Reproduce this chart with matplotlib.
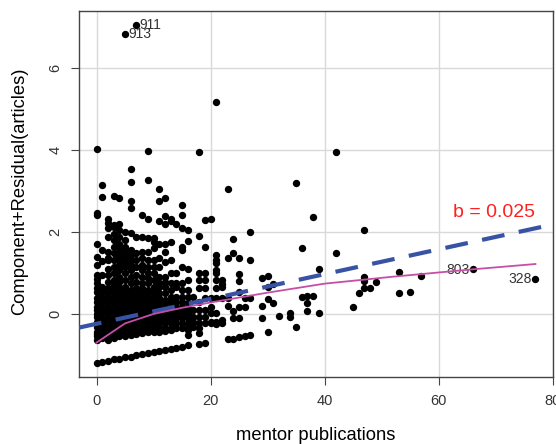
import matplotlib
matplotlib.use("Agg")
import matplotlib.pyplot as plt
import numpy as np

plt.rcParams['font.family'] = ['Liberation Sans', 'DejaVu Sans']

# ---- data (mentor publications vs component+residual) ----
# zero-article observations (lowest diagonal row)
zero_x = [0, 1, 2, 3, 4, 5, 6, 7, 8, 9, 10, 11, 12, 13, 14, 15, 16, 18, 19]
zero_y = [-1.19, -1.17, -1.14, -1.11, -1.09, -1.06, -1.04, -1.01, -0.98, -0.96,
          -0.93, -0.90, -0.88, -0.85, -0.82, -0.80, -0.77, -0.73, -0.71]
row2_x = [23, 24, 25, 26, 27]
row2_y = [-0.62, -0.60, -0.57, -0.54, -0.51]

# column readings: mentor publications value -> partial residuals
col_x = [0, 1, 2, 3, 4, 5, 6, 7, 8, 9, 10, 11, 12, 13, 14, 15, 16, 17, 18, 19, 20,
         21, 22, 23, 24, 25, 26, 27, 29, 30, 31, 32, 34, 35, 36, 37, 38, 39, 42,
         45, 46, 47, 48, 49, 53, 55, 57]
col_y = [
    [4.04, 2.46, 2.41, 1.72, 1.40, 1.20, 0.95, 0.85, 0.75, 0.64, 0.54, 0.40, 0.30, 0.18, 0.10, 0.00, -0.07, -0.19, -0.27, -0.32, -0.43, -0.50, -0.55, -0.63],
    [3.16, 2.86, 1.56, 1.30, 0.95, 0.67, 0.58, 0.50, 0.42, 0.34, 0.26, 0.18, 0.10, 0.02, -0.07, -0.15, -0.23, -0.31, -0.39, -0.47, -0.53, -0.59],
    [2.31, 2.23, 2.09, 1.89, 1.52, 1.36, 1.32, 1.11, 0.95, 0.79, 0.63, 0.55, 0.50, 0.42, 0.34, 0.26, 0.18, 0.10, 0.02, -0.07, -0.15, -0.23, -0.29, -0.35, -0.43, -0.51, -0.57, -0.63],
    [2.89, 2.17, 2.13, 1.96, 1.80, 1.64, 1.48, 1.32, 1.15, 0.99, 0.83, 0.71, 0.63, 0.50, 0.42, 0.34, 0.26, 0.18, 0.10, 0.02, -0.07, -0.15, -0.23, -0.31, -0.39, -0.47, -0.53, -0.59],
    [2.84, 2.20, 2.05, 1.88, 1.72, 1.60, 1.48, 1.40, 1.32, 1.20, 1.07, 0.91, 0.79, 0.67, 0.58, 0.50, 0.42, 0.34, 0.26, 0.18, 0.10, 0.02, -0.07, -0.15, -0.23, -0.31, -0.39, -0.47, -0.55],
    [2.01, 1.80, 1.64, 1.56, 1.48, 1.40, 1.32, 1.24, 1.15, 0.99, 0.83, 0.67, 0.58, 0.50, 0.42, 0.34, 0.24, 0.14, 0.06, -0.02, -0.10, -0.19, -0.27, -0.35, -0.41, -0.47, -0.53],
    [3.53, 3.23, 2.76, 2.60, 1.98, 1.56, 1.44, 1.32, 1.20, 1.07, 0.91, 0.75, 0.59, 0.50, 0.42, 0.34, 0.26, 0.18, 0.10, 0.02, -0.07, -0.15, -0.23, -0.31, -0.39, -0.47, -0.52],
    [1.89, 1.48, 1.32, 1.15, 0.95, 0.79, 0.63, 0.54, 0.46, 0.38, 0.30, 0.22, 0.14, 0.06, -0.02, -0.10, -0.19, -0.27, -0.35, -0.43, -0.50],
    [2.41, 1.89, 1.52, 1.36, 1.20, 1.07, 0.91, 0.75, 0.64, 0.54, 0.44, 0.34, 0.26, 0.18, 0.10, 0.02, -0.07, -0.15, -0.23, -0.31, -0.39, -0.47],
    [3.98, 3.27, 2.33, 1.85, 1.52, 1.32, 1.15, 0.99, 0.87, 0.75, 0.59, 0.50, 0.42, 0.34, 0.26, 0.18, 0.10, 0.02, -0.07, -0.15, -0.23, -0.31, -0.39, -0.45],
    [1.85, 1.76, 1.60, 1.32, 1.15, 0.99, 0.83, 0.67, 0.58, 0.50, 0.42, 0.34, 0.26, 0.18, 0.10, 0.02, -0.07, -0.15, -0.23, -0.31, -0.39, -0.44],
    [3.06, 2.76, 2.28, 1.72, 1.36, 1.15, 0.91, 0.75, 0.67, 0.50, 0.38, 0.26, 0.14, 0.02, -0.07, -0.15, -0.23, -0.31, -0.37, -0.43],
    [2.84, 2.39, 2.20, 1.72, 1.52, 1.28, 0.91, 0.79, 0.67, 0.50, 0.34, 0.26, 0.18, 0.10, 0.02, -0.07, -0.15, -0.23, -0.35, -0.41],
    [2.27, 2.33, 1.76, 1.32, 0.99, 0.75, 0.59, 0.42, 0.30, 0.18, 0.06, -0.02, -0.11, -0.23, -0.35, -0.40],
    [2.20, 0.99, 0.75, 0.67, 0.42, 0.30, 0.18, 0.06, -0.02, -0.11, -0.23, -0.35],
    [2.65, 2.41, 2.11, 1.64, 1.56, 1.15, 0.75, 0.59, 0.42, 0.30, 0.18, 0.06, -0.02, -0.11, -0.23, -0.35],
    [2.05, 1.79, 1.11, 0.83, 0.59, 0.42, 0.26, 0.14, 0.02, -0.11, -0.23, -0.31, -0.39, -0.51],
    [0.42, 0.10, -0.07, -0.19, -0.31],
    [3.96, 1.90, 1.01, 0.83, 0.64, 0.30, 0.10, -0.07, -0.23, -0.35, -0.47],
    [2.29, 1.64, 1.01, 0.83, 0.63, 0.38, 0.10, -0.07, -0.23],
    [2.31, 0.38, 0.18, 0.02, -0.19, -0.23],
    [5.18, 1.44, 1.32, 1.24, 1.07, 0.99, 0.83, 0.63, 0.38, 0.02, -0.19, -0.24],
    [0.83, 0.73, 0.65, 0.38, -0.15, -0.21],
    [3.06, 1.36, 0.38, 0.20],
    [1.83, 1.48, 0.08, -0.11],
    [1.36, 0.98, 0.80, 0.53, 0.18, -0.11],
    [0.38, 0.18],
    [2.01, 1.32, 0.38],
    [0.89, 0.20, -0.11],
    [0.93, 0.67, 0.36, -0.43],
    [0.72, 0.26],
    [-0.05],
    [0.03, -0.08],
    [3.20, -0.31],
    [1.60, 0.42],
    [0.44, 0.26, 0.08],
    [2.36, 0.44],
    [1.11, 0.02],
    [3.96, 1.50],
    [0.16],
    [0.50],
    [2.05, 0.91, 0.81, 0.63],
    [0.63],
    [0.79],
    [1.03, 0.50],
    [0.53],
    [0.93],
]

# labelled observations
lab_ids = ["911", "913", "803", "328"]
lab_x = [7, 5, 66, 77]
lab_y = [7.07, 6.83, 1.11, 0.85]

# lines
fit_intercept = -0.24
fit_slope = 0.0303
smooth_x = [0, 5, 10, 15, 20, 30, 40, 52, 66, 77]
smooth_y = [-0.70, -0.23, 0.00, 0.15, 0.28, 0.52, 0.74, 0.91, 1.09, 1.22]
slope_text = "b = 0.025"

# ---- figure ----
fig = plt.figure(figsize=(5.56, 4.44), dpi=100)
ax = fig.add_axes([79/556, 1-377/444, (553-79)/556, (377-11)/444])

ax.set_xlim(-3.08, 80.08)
ax.set_ylim(-1.54, 7.40)
ax.set_xticks([0, 20, 40, 60, 80])
ax.set_yticks([0, 2, 4, 6])
ax.grid(True, color='#D9D9D9', linewidth=1.0)
ax.set_axisbelow(True)

px, py = [], []
for x, ys in zip(col_x, col_y):
    for y in ys:
        px.append(x); py.append(y)
px += zero_x + row2_x + lab_x
py += zero_y + row2_y + lab_y
ax.scatter(px, py, s=28, color='black', linewidths=0, zorder=3)

xs = np.array([-3.08, 80.08])
ax.plot(xs, fit_intercept + fit_slope * xs, color='#3953A4', lw=3.0,
        dashes=(5.5, 3.5), zorder=4, solid_capstyle='butt')
ax.plot(smooth_x, smooth_y, color='#C64FA6', lw=1.3, zorder=5)

ax.text(lab_x[0] + 0.5, lab_y[0], lab_ids[0], ha='left', va='center', fontsize=10, color='#333333')
ax.text(lab_x[1] + 0.5, lab_y[1], lab_ids[1], ha='left', va='center', fontsize=10, color='#333333')
ax.text(lab_x[2] - 0.6, lab_y[2] - 0.03, lab_ids[2], ha='right', va='center', fontsize=10, color='#333333')
ax.text(lab_x[3] - 0.6, lab_y[3], lab_ids[3], ha='right', va='center', fontsize=10, color='#333333')

ax.text(69.8, 2.49, slope_text, ha='center', va='center', fontsize=14, color='#FF2020')

for s in ax.spines.values():
    s.set_color('#444444')
    s.set_linewidth(1.0)
ax.tick_params(axis='both', direction='out', length=6, width=0.8, color='#444444',
               labelsize=10.5, labelcolor='#333333', pad=6)
for lab in ax.get_yticklabels():
    lab.set_rotation(90)
    lab.set_va('center')

fig.text(316/556, 1-435/444, "mentor publications", ha='center', va='center', fontsize=13.2)
fig.text(20/556, 1-191/444, "Component+Residual(articles)", ha='center', va='center',
         fontsize=13.2, rotation=90)

fig.savefig("out.png", dpi=100)
